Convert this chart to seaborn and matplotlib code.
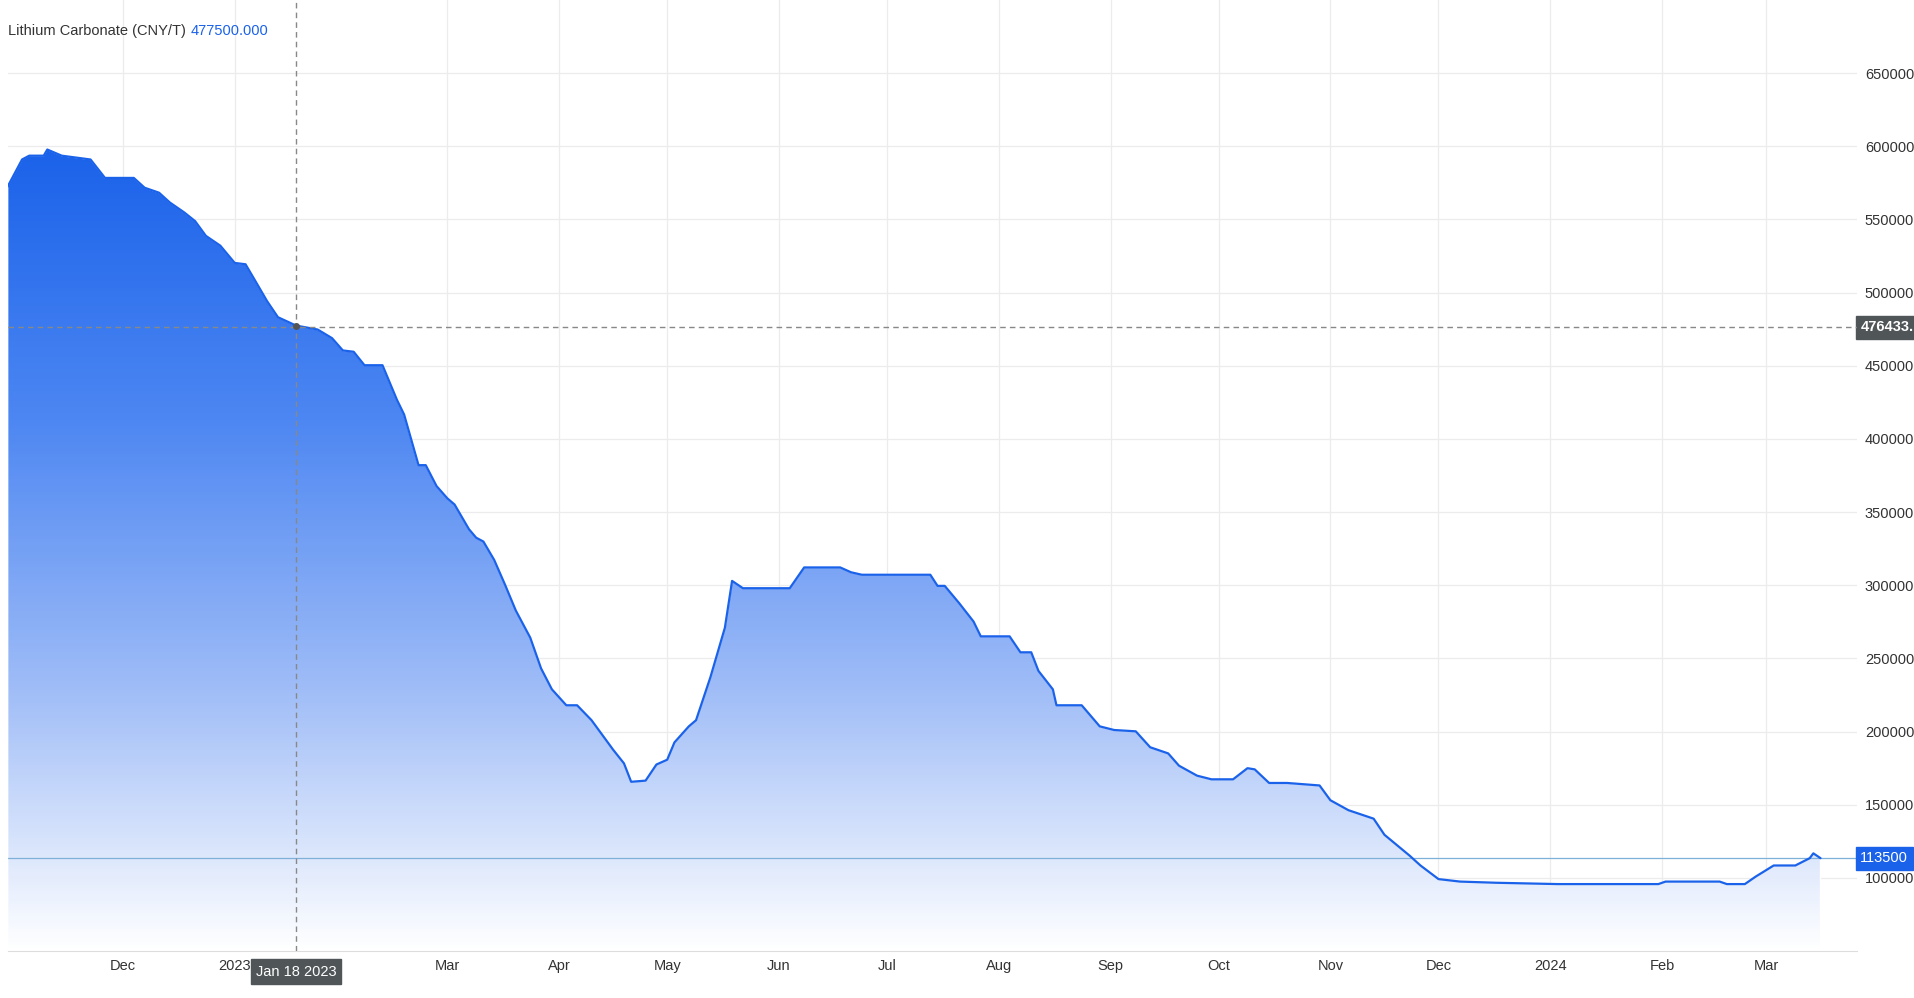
import numpy as np
import pandas as pd
import matplotlib
matplotlib.use("Agg")
import matplotlib.pyplot as plt
import matplotlib.dates as mdates
from matplotlib.patches import Polygon
from matplotlib.colors import LinearSegmentedColormap
import seaborn as sns

dates = [
    "2022-10-30","2022-11-03","2022-11-05","2022-11-09","2022-11-10","2022-11-14","2022-11-22","2022-11-26","2022-12-04","2022-12-07",
    "2022-12-11","2022-12-14","2022-12-18","2022-12-21","2022-12-24","2022-12-28","2023-01-01","2023-01-04","2023-01-07","2023-01-10",
    "2023-01-13","2023-01-16","2023-01-18","2023-01-24","2023-01-28","2023-01-31","2023-02-03","2023-02-06","2023-02-11","2023-02-15",
    "2023-02-17","2023-02-21","2023-02-23","2023-02-26","2023-03-01","2023-03-03","2023-03-07","2023-03-09","2023-03-11","2023-03-14",
    "2023-03-17","2023-03-20","2023-03-24","2023-03-27","2023-03-30","2023-04-03","2023-04-06","2023-04-10","2023-04-13","2023-04-16",
    "2023-04-19","2023-04-21","2023-04-25","2023-04-28","2023-05-01","2023-05-03","2023-05-07","2023-05-09","2023-05-13","2023-05-17",
    "2023-05-19","2023-05-22","2023-06-04","2023-06-08","2023-06-18","2023-06-21","2023-06-24","2023-07-13","2023-07-15","2023-07-17",
    "2023-07-19","2023-07-21","2023-07-25","2023-07-27","2023-08-04","2023-08-07","2023-08-10","2023-08-12","2023-08-16","2023-08-17",
    "2023-08-24","2023-08-29","2023-09-02","2023-09-08","2023-09-12","2023-09-17","2023-09-20","2023-09-25","2023-09-29","2023-10-05",
    "2023-10-09","2023-10-11","2023-10-15","2023-10-20","2023-10-29","2023-11-01","2023-11-06","2023-11-13","2023-11-16","2023-11-23",
    "2023-11-26","2023-12-01","2023-12-07","2023-12-17","2024-01-03","2024-01-31","2024-02-02","2024-02-17","2024-02-19","2024-02-24",
    "2024-02-27","2024-03-03","2024-03-09","2024-03-13","2024-03-14","2024-03-16",
]
prices = [
    572500,591000,593600,593600,597800,593600,591000,578400,578400,571700,
    568300,561600,554800,548900,538800,532100,520300,519400,506800,494100,
    483200,479800,477500,474800,468900,460500,459600,450400,450400,426800,
    416700,382100,382100,367800,359400,355200,338300,332500,329900,317300,
    300400,282700,264200,243200,228900,218000,218000,207800,197700,187600,
    178300,165700,166500,177500,180800,192600,203600,207800,237300,271000,
    303000,298000,298000,312200,312200,308900,307200,307200,299600,299600,
    293700,287800,275200,265100,265100,254200,254200,241500,228900,218000,
    218000,203600,201100,200200,189300,185100,176700,169900,167400,167400,
    175000,174200,164900,164900,163200,153100,146300,140500,129500,115200,
    108500,99200,97500,96700,95800,95800,97500,97500,95800,95800,
    100900,108500,108500,113500,116800,113500,
]
yticks = [100000,150000,200000,250000,300000,350000,400000,450000,500000,550000,600000,650000]
month_ticks = ["2022-12-01","2023-01-01","2023-03-01","2023-04-01","2023-05-01","2023-06-01","2023-07-01",
               "2023-08-01","2023-09-01","2023-10-01","2023-11-01","2023-12-01","2024-01-01","2024-02-01","2024-03-01"]
month_labels = ["Dec","2023","Mar","Apr","May","Jun","Jul","Aug","Sep","Oct","Nov","Dec","2024","Feb","Mar"]

df = pd.DataFrame({"date": pd.to_datetime(dates), "price": prices})

sns.set_style("white")
plt.rcParams["font.family"] = ["Liberation Sans", "DejaVu Sans"]
fig = plt.figure(figsize=(19.14, 9.98), dpi=100)
ax = fig.add_axes([0.004, 0.047, 0.966, 0.953])

blue = "#1a62ea"
fs = 10.5
ymin, ymax = 50000, 700000
xd = mdates.date2num(df["date"])
xmin = xd[0]
xmax = mdates.date2num(pd.Timestamp("2024-03-26"))

grad = np.linspace(0, 1, 256).reshape(-1, 1)
cmap = LinearSegmentedColormap.from_list("g", ["#ffffff", "#9dbbf7", "#4c86f2", "#1a62ea"])
im = ax.imshow(grad, aspect="auto", cmap=cmap, origin="lower",
               extent=[xd[0], xd[-1], ymin, 600000], zorder=1)
poly = Polygon(np.column_stack([np.r_[xd[0], xd, xd[-1]], np.r_[ymin, df["price"], ymin]]),
               closed=True, transform=ax.transData, facecolor="none")
ax.add_patch(poly)
im.set_clip_path(poly)

sns.lineplot(data=df, x="date", y="price", ax=ax, color=blue, linewidth=1.6, zorder=3)

ax.set_xlim(xmin, xmax)
ax.set_ylim(ymin, ymax)
ax.yaxis.tick_right()
ax.set_yticks(yticks)
ax.set_yticklabels([str(v) for v in yticks], fontsize=fs, color="#333333")
ax.set_xticks(mdates.date2num(pd.to_datetime(month_ticks)))
ax.set_xticklabels(month_labels, fontsize=fs, color="#333333")
ax.tick_params(length=0, pad=6)
ax.grid(True, color="#ececec", linewidth=0.9)
ax.set_xlabel("")
ax.set_ylabel("")
for s in ["top", "left", "right"]:
    ax.spines[s].set_visible(False)
ax.spines["bottom"].set_color("#dddddd")

ax.axhline(113500, color="#7fb0d8", linewidth=0.9, zorder=2)
ax.text(1.002, 113500, "113500", transform=ax.get_yaxis_transform(), ha="left", va="center",
        fontsize=fs, color="white", bbox=dict(boxstyle="square,pad=0.3", fc=blue, ec=blue))

xj = mdates.date2num(pd.Timestamp("2023-01-18"))
ax.axvline(xj, color="#888888", linestyle=(0, (4, 3)), linewidth=1, zorder=4)
ax.axhline(476433, color="#888888", linestyle=(0, (4, 3)), linewidth=1, zorder=4)
ax.plot([xj], [477500], "o", color="#555555", markersize=4, zorder=5)
ax.text(1.002, 476433, "476433.1", transform=ax.get_yaxis_transform(), ha="left", va="center",
        fontsize=fs, color="white", fontweight="bold",
        bbox=dict(boxstyle="square,pad=0.3", fc="#505558", ec="#505558"), clip_on=False)
ax.text(xj, -0.0215, "Jan 18 2023", transform=ax.get_xaxis_transform(), ha="center", va="center",
        fontsize=fs, color="white", bbox=dict(boxstyle="square,pad=0.35", fc="#505558", ec="#505558"), zorder=6)

t1 = fig.text(0.004, 0.969, "Lithium Carbonate (CNY/T)", fontsize=fs, color="#333333", va="center")
ax.annotate("477500.000", xy=(1, 0.5), xycoords=t1, xytext=(4, 0), textcoords="offset points",
            fontsize=fs, color=blue, va="center", ha="left")

fig.savefig("out.png", dpi=100)
